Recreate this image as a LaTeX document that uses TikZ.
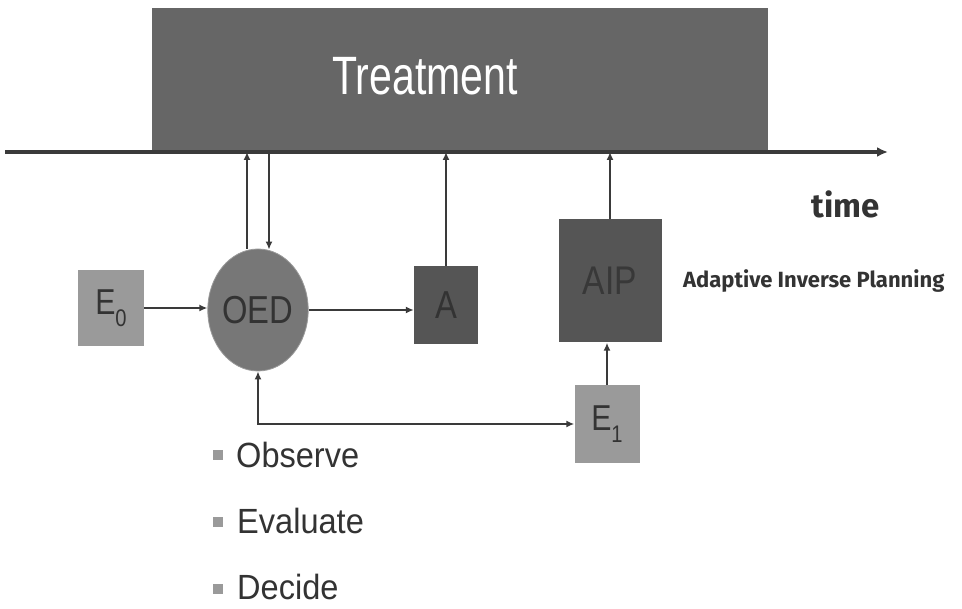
\documentclass[tikz,border=0pt]{standalone}
\usepackage{fontspec}
\setmainfont{Liberation Sans}
\newfontfamily\narrowsans[FakeStretch=0.84]{Liberation Sans}
\newfontfamily\tallsans[FakeStretch=0.76]{Liberation Sans}
\newfontfamily\listfont[FakeStretch=0.93]{Liberation Sans}
\newfontfamily\notefont{Fira Sans}
\usetikzlibrary{arrows.meta,shapes.geometric}

\definecolor{treatgray}{HTML}{666666}
\definecolor{lightbox}{HTML}{9A9A9A}
\definecolor{oedgray}{HTML}{777777}
\definecolor{darkbox}{HTML}{555555}
\definecolor{linegray}{HTML}{3A3A3A}
\definecolor{inkgray}{HTML}{333333}

\tikzset{
  box/.style={inner sep=0pt, draw=none},
  tip/.style={},
  flow/.style={draw=linegray, line width=2.3pt, -{Latex[length=8pt,width=7pt]}},
  axisline/.style={draw=linegray, line width=3.4pt, -{Latex[length=11pt,width=10pt]}},
  bullet/.style={fill=lightbox, minimum size=10pt, inner sep=0pt},
  item/.style={anchor=west, inner sep=0pt, text=inkgray, font=\listfont\fontsize{35}{35}\selectfont},
}

\begin{document}
\begin{tikzpicture}[x=1pt, y=-1pt]
\useasboundingbox[fill=white] (0,0) rectangle (962,609);

% treatment period
\node[box, fill=treatgray, minimum width=616pt, minimum height=144pt] (treat) at (460,80) {};
\node[inner sep=0pt, text=white, font=\tallsans\fontsize{54}{54}\selectfont] (treatlabel) at (425,76) {Treatment};

% time axis
\coordinate (axL) at (5,152);
\coordinate (axR) at (888,152);
\draw[axisline] (axL) -- (axR);
\node[inner sep=0pt, text=inkgray, font=\notefont\bfseries\fontsize{33}{33}\selectfont] (timelabel) at (846,204) {time};

% blocks
\node[box, fill=lightbox, minimum width=66pt, minimum height=76pt, text=inkgray,
      font=\narrowsans\fontsize{36}{36}\selectfont] (e0) at (111,308)
      {E\raisebox{-0.32em}{\fontsize{24}{24}\selectfont 0}};
\node[box, ellipse, fill=oedgray, draw=lightbox, line width=0.8pt, minimum width=100pt, minimum height=122pt,
      text=inkgray, font=\narrowsans\fontsize{39}{39}\selectfont] (oed) at (258,310) {OED};
\node[box, fill=darkbox, minimum width=64pt, minimum height=78pt, text=inkgray,
      font=\narrowsans\fontsize{39}{39}\selectfont] (a) at (446,305) {A};
\node[box, fill=darkbox, minimum width=103pt, minimum height=123pt, text=inkgray!85!darkbox,
      font=\narrowsans\fontsize{40}{40}\selectfont] (aip) at (610,281) {AIP};
\node[box, fill=lightbox, minimum width=65pt, minimum height=78pt, text=inkgray,
      font=\narrowsans\fontsize{36}{36}\selectfont] (e1) at (607,424)
      {E\raisebox{-0.32em}{\fontsize{24}{24}\selectfont 1}};
\node[anchor=west, inner sep=0pt, text=inkgray, font=\notefont\bfseries\fontsize{22}{22}\selectfont]
      (aiplabel) at (683,281) {Adaptive Inverse Planning};

% connectors
\coordinate (oedup) at ([xshift=-11pt]oed.north);
\coordinate (oeddown) at ([xshift=11pt, yshift=-1pt]oed.north);
\draw[flow] (oedup) -- (oedup |- axL);
\draw[flow] (oeddown |- axL) -- (oeddown);
\draw[flow] (a.north) -- (a.north |- axL);
\draw[flow] (aip.north) -- (aip.north |- axL);
\draw[flow] (e0.east) -- (e0.east -| oed.west);
\draw[flow] (oed.east) -- (oed.east -| a.west);
\draw[flow] (e1.north) -- (e1.north |- aip.south);
\draw[flow, line width=2.8pt, {Latex[length=8pt,width=7pt]}-{Latex[length=8pt,width=7pt]}] (oed.south) |- (e1.west);

% steps of the decision loop
\node[bullet] (b1) at (218,455) {};
\node[item] (obs) at (236,455) {Observe};
\node[bullet] (b2) at (218,522) {};
\node[item] (eva) at (237,521) {Evaluate};
\node[bullet] (b3) at (218,589) {};
\node[item] (dec) at (237,587) {Decide};
\end{tikzpicture}
\end{document}
